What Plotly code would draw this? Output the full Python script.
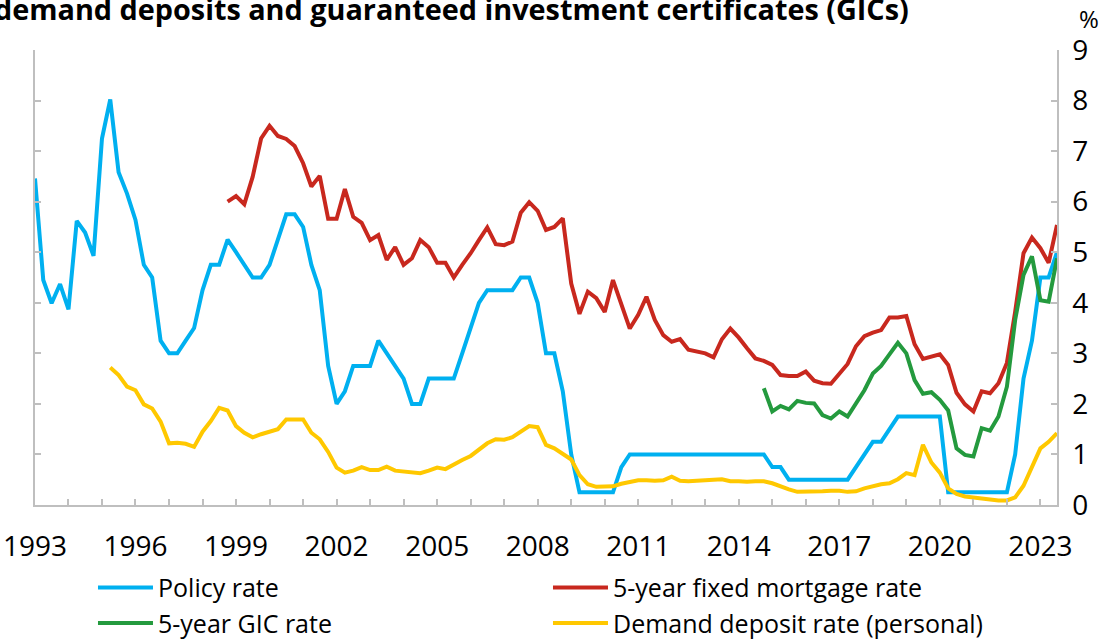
import pandas as pd
import plotly.graph_objects as go

# Quarterly observations (first quarter of each series given by its start date)
policy_start = "1993-01-01"
policy_rate = [
    6.46, 4.45, 3.99, 4.37, 3.87, 5.62, 5.39, 4.93, 7.25, 8.02, 6.58, 6.16,
    5.64, 4.75, 4.50, 3.25, 3.00, 3.00, 3.25, 3.50, 4.25, 4.75, 4.75, 5.25,
    5.00, 4.75, 4.50, 4.50, 4.75, 5.25, 5.75, 5.75, 5.50, 4.75, 4.25, 2.75,
    2.00, 2.25, 2.75, 2.75, 2.75, 3.25, 3.00, 2.75, 2.50, 2.00, 2.00, 2.50,
    2.50, 2.50, 2.50, 3.00, 3.50, 4.00, 4.25, 4.25, 4.25, 4.25, 4.50, 4.50,
    4.00, 3.00, 3.00, 2.25, 1.00, 0.25, 0.25, 0.25, 0.25, 0.25, 0.75, 1.00,
    1.00, 1.00, 1.00, 1.00, 1.00, 1.00, 1.00, 1.00, 1.00, 1.00, 1.00, 1.00,
    1.00, 1.00, 1.00, 1.00, 0.75, 0.75, 0.50, 0.50, 0.50, 0.50, 0.50, 0.50,
    0.50, 0.50, 0.75, 1.00, 1.25, 1.25, 1.50, 1.75, 1.75, 1.75, 1.75, 1.75,
    1.75, 0.25, 0.25, 0.25, 0.25, 0.25, 0.25, 0.25, 0.25, 1.00, 2.50, 3.25,
    4.50, 4.50, 5.00,
]

mortgage_start = "1998-10-01"
mortgage_rate = [
    6.00, 6.11, 5.95, 6.49, 7.25, 7.50, 7.30, 7.24, 7.10, 6.76, 6.30, 6.51,
    5.66, 5.66, 6.25, 5.70, 5.58, 5.24, 5.34, 4.85, 5.10, 4.75, 4.88, 5.24,
    5.10, 4.79, 4.79, 4.50, 4.75, 4.98, 5.24, 5.49, 5.16, 5.14, 5.21, 5.78,
    5.99, 5.82, 5.44, 5.50, 5.67, 4.38, 3.78, 4.22, 4.09, 3.82, 4.45, 3.99,
    3.49, 3.76, 4.12, 3.66, 3.36, 3.23, 3.28, 3.07, 3.03, 3.00, 2.92, 3.28,
    3.49, 3.31, 3.10, 2.90, 2.85, 2.77, 2.57, 2.55, 2.55, 2.64, 2.46, 2.41,
    2.40, 2.60, 2.79, 3.14, 3.34, 3.41, 3.46, 3.71, 3.71, 3.74, 3.18, 2.89,
    2.93, 2.98, 2.77, 2.22, 1.99, 1.85, 2.25, 2.21, 2.41, 2.81, 3.82, 4.98,
    5.29, 5.08, 4.79, 5.54,
]

gic_start = "2014-10-01"
gic_rate = [
    2.31, 1.85, 1.96, 1.89, 2.06, 2.02, 2.01, 1.78, 1.71, 1.85, 1.75, 2.01,
    2.27, 2.60, 2.75, 2.98, 3.21, 3.00, 2.47, 2.20, 2.23, 2.08, 1.87, 1.12,
    0.99, 0.96, 1.52, 1.47, 1.75, 2.34, 3.66, 4.55, 4.92, 4.05, 4.02, 4.88,
]

deposit_start = "1995-04-01"
deposit_rate = [
    2.72, 2.57, 2.34, 2.27, 1.99, 1.91, 1.65, 1.22, 1.23, 1.21, 1.15, 1.45,
    1.66, 1.92, 1.87, 1.56, 1.43, 1.34, 1.40, 1.46, 1.50, 1.69, 1.69, 1.69,
    1.43, 1.30, 1.05, 0.74, 0.64, 0.68, 0.75, 0.69, 0.69, 0.76, 0.68, 0.66,
    0.63, 0.63, 0.68, 0.74, 0.71, 0.81, 0.89, 0.97, 1.09, 1.22, 1.30, 1.29,
    1.34, 1.45, 1.56, 1.54, 1.19, 1.12, 1.02, 0.90, 0.59, 0.41, 0.36, 0.37,
    0.37, 0.42, 0.46, 0.49, 0.49, 0.48, 0.49, 0.56, 0.48, 0.47, 0.48, 0.50,
    0.50, 0.51, 0.47, 0.47, 0.46, 0.47, 0.47, 0.43, 0.36, 0.31, 0.26, 0.26,
    0.27, 0.27, 0.28, 0.28, 0.26, 0.27, 0.33, 0.38, 0.41, 0.43, 0.51, 0.63,
    0.59, 1.19, 0.84, 0.64, 0.33, 0.22, 0.17, 0.15, 0.13, 0.12, 0.09, 0.09,
    0.15, 0.38, 0.76, 1.12, 1.25, 1.42,
]

SERIES = [
    ("Policy rate", policy_start, policy_rate, "#00B0F0"),
    ("5-year fixed mortgage rate", mortgage_start, mortgage_rate, "#C8281E"),
    ("5-year GIC rate", gic_start, gic_rate, "#249A3E"),
    ("Demand deposit rate (personal)", deposit_start, deposit_rate, "#FFC800"),
]

FONT = "Open Sans"
AXIS_GREY = "#BFBFBF"

fig = go.Figure()
for name, start, values, color in SERIES:
    dates = pd.date_range(start, periods=len(values), freq="QS")
    fig.add_trace(
        go.Scatter(
            x=dates,
            y=values,
            name=name,
            mode="lines",
            line={"color": color, "width": 4},
        )
    )

fig.update_layout(
    width=1107,
    height=641,
    margin={"l": 35, "r": 50, "t": 50, "b": 136},
    plot_bgcolor="white",
    paper_bgcolor="white",
    font={"family": FONT, "size": 25, "color": "black"},
    showlegend=True,
    legend={
        "orientation": "h",
        "xref": "container",
        "yref": "container",
        "x": 0.084,
        "xanchor": "left",
        "y": 0.119,
        "yanchor": "top",
        "entrywidth": 385,
        "itemwidth": 55,
        "font": {"size": 25},
        "bgcolor": "rgba(0,0,0,0)",
    },
    xaxis={
        "type": "date",
        "range": ["1993-01-01", "2023-07-01"],
        "tick0": "1993-01-01",
        "dtick": "M36",
        "tickformat": "%Y",
        "ticks": "inside",
        "ticklen": 6,
        "tickcolor": AXIS_GREY,
        "tickwidth": 1.5,
        "showline": True,
        "linecolor": AXIS_GREY,
        "linewidth": 1.5,
        "showgrid": False,
        "zeroline": False,
        "automargin": False,
        "ticklabelstandoff": 16,
        "tickfont": {"size": 28},
        "minor": {
            "dtick": "M12",
            "tick0": "1993-01-01",
            "ticks": "inside",
            "ticklen": 6,
            "tickcolor": AXIS_GREY,
            "tickwidth": 1.5,
            "showgrid": False,
        },
    },
    yaxis={
        "range": [0, 9],
        "dtick": 1,
        "side": "right",
        "ticks": "inside",
        "ticklen": 6,
        "tickcolor": AXIS_GREY,
        "tickwidth": 1.5,
        "showline": True,
        "mirror": "ticks",
        "linecolor": AXIS_GREY,
        "linewidth": 1.5,
        "showgrid": False,
        "zeroline": False,
        "automargin": False,
        "ticklabelstandoff": 8,
        "tickfont": {"size": 28},
    },
    annotations=[
        {
            "text": "<b>demand deposits and guaranteed investment certificates (GICs)</b>",
            "xref": "paper",
            "yref": "paper",
            "x": 0,
            "y": 1,
            "xanchor": "left",
            "yanchor": "bottom",
            "xshift": -43,
            "yshift": 20,
            "showarrow": False,
            "font": {"size": 28.8, "family": FONT},
        },
        {
            "text": "%",
            "xref": "paper",
            "yref": "paper",
            "x": 1,
            "y": 1,
            "xanchor": "left",
            "yanchor": "bottom",
            "xshift": 20,
            "yshift": 13,
            "showarrow": False,
            "font": {"size": 24, "family": FONT},
        },
    ],
)

# the page's default body margin would shift the chart inside the window
fig.write_html(
    "out.html",
    config={"displayModeBar": False},
    post_script="document.body.style.margin = '0';",
)
